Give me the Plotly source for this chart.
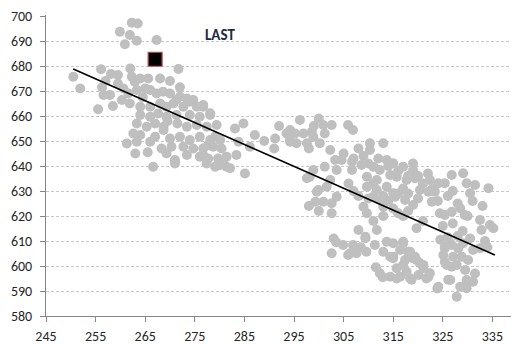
import plotly.graph_objects as go

# ---- data ----
upper_x = [262.3, 263.5, 259.9, 261.9, 263.3, 260.9, 267.3, 271.7, 272.0,
           250.5, 251.9, 255.5, 256.1, 258.1, 259.5, 256.3, 257.9, 256.6, 266.6,
           261.3, 263.3, 266.0, 271.0, 273.4, 285.1, 281.4, 283.1, 284.8, 287.1,
           291.2, 286.1, 262.3, 262.9, 264.0, 265.6, 260.6, 261.6, 263.3, 265.0,
           266.0, 267.3, 268.6, 270.0, 272.0, 273.4, 274.7, 260.3, 261.9, 264.0,
           266.0, 268.0, 269.3, 270.7, 272.7, 275.4, 276.7, 264.0, 266.0, 267.6,
           269.3, 271.3, 274.0, 276.0, 278.1, 263.3, 265.3, 267.0, 268.7, 273.4,
           275.4, 277.4, 279.4, 262.6, 264.0, 267.0, 268.7, 270.0, 272.0, 274.0,
           276.0, 278.1, 280.1, 268.3, 270.3, 272.7, 274.7, 276.7, 278.7, 280.4,
           269.3, 276.0, 277.7, 279.7, 281.4, 283.4, 277.4, 280.1, 271.0, 274.0,
           271.3, 276.7, 278.1, 279.1, 277.7, 280.7, 279.1, 282.1, 283.8, 271.0,
           276.7, 258.5, 259.5, 268.0, 270.0, 262.0, 257.0, 264.5, 269.5, 271.5,
           265.5, 263.0]
upper_y = [697.3, 697.0, 693.7, 692.4, 690.1, 688.7, 690.4, 678.8, 671.5,
           675.7, 671.0, 662.7, 678.7, 676.8, 676.4, 671.5, 668.4, 668.4, 639.7,
           649.0, 649.7, 649.7, 641.0, 644.4, 637.0, 639.7, 655.0, 657.0, 652.4,
           651.0, 647.7, 675.7, 673.7, 675.0, 675.0, 671.0, 669.0, 670.4, 671.0,
           670.4, 669.0, 669.7, 669.0, 667.7, 667.0, 666.4, 666.4, 665.0, 663.7,
           663.7, 665.0, 663.7, 665.0, 663.7, 663.7, 663.7, 660.4, 659.7, 661.0,
           659.7, 660.4, 660.4, 659.7, 660.4, 657.0, 655.7, 657.0, 655.7, 655.7,
           656.4, 655.7, 656.4, 653.0, 652.4, 651.7, 654.4, 651.0, 651.7, 650.4,
           651.7, 650.4, 650.4, 647.0, 647.7, 647.7, 647.0, 647.0, 647.7, 647.0,
           645.0, 643.7, 643.0, 643.0, 643.7, 644.4, 641.0, 640.4, 641.7, 665.7,
           666.4, 664.4, 661.1, 651.7, 648.4, 641.1, 639.7, 639.1, 649.7, 642.4,
           644.4, 664.0, 673.0, 675.0, 674.0, 679.0, 674.0, 667.5, 658.0, 657.0,
           645.5, 645.0]

middle_x = [296.2, 294.2, 293.5, 295.2, 296.9, 298.6, 298.9, 300.9, 302.6, 301.2,
            300.2, 297.6, 295.5, 294.2, 302.3, 305.9, 306.9, 310.3, 313.0, 310.3,
            313.7, 304.6, 306.7, 303.3, 301.2, 298.9, 303.6, 306.7, 308.6, 311.0,
            312.3, 309.7, 311.7, 314.4, 297.6, 302.3, 309.7, 311.7, 313.7, 315.0,
            299.6, 301.6, 303.6, 299.3, 300.9, 302.6, 302.6, 309.0, 309.7, 312.3,
            313.0, 311.0, 315.0, 317.0, 319.0, 315.7, 317.7, 319.4, 322.4, 324.1,
            325.4, 326.8, 329.1, 329.8, 331.5, 334.2, 330.5, 320.4, 322.1, 323.4,
            322.8, 315.4, 317.4, 319.0, 316.0, 324.4, 326.8, 328.5, 329.4, 332.5,
            334.5, 335.2, 332.8, 319.7, 325.4, 305.0, 307.0, 308.0, 309.0, 310.0,
            312.0, 314.0, 316.0, 318.0, 306.0, 307.0, 308.0, 310.0, 311.0, 313.0,
            314.0, 316.0, 317.0, 318.0, 320.0, 321.0, 319.0, 320.0, 322.0, 323.0,
            315.0, 313.0, 311.0, 317.0, 318.0, 321.0, 324.0, 326.0, 327.0, 328.0,
            330.0, 331.0, 333.0, 327.0, 329.0, 325.0, 289.0, 292.0, 300.0, 299.0,
            298.0, 291.0, 298.0, 300.0, 298.2, 299.9, 294.2]
middle_y = [658.4, 654.4, 653.0, 653.0, 653.0, 653.7, 651.7, 656.4, 656.4, 653.0,
            649.1, 649.1, 649.1, 649.7, 646.4, 656.4, 654.4, 649.1, 649.1, 646.4,
            642.4, 642.4, 641.7, 642.4, 639.7, 638.4, 638.4, 638.4, 640.4, 639.7,
            638.4, 635.7, 634.4, 636.4, 635.1, 634.4, 631.7, 630.4, 631.7, 629.1,
            629.7, 631.7, 627.7, 625.7, 625.7, 625.1, 621.1, 623.7, 621.1, 626.4,
            623.7, 627.7, 641.1, 639.7, 638.4, 635.7, 634.4, 635.1, 634.4, 633.1,
            633.1, 636.4, 637.1, 633.1, 632.4, 631.1, 629.1, 630.4, 629.7, 629.7,
            625.7, 627.7, 626.4, 624.4, 621.1, 621.1, 621.7, 623.1, 620.4, 618.4,
            616.4, 615.1, 614.4, 615.1, 620.4, 645.0, 643.0, 647.0, 644.0, 641.0,
            643.0, 640.0, 638.0, 636.0, 633.0, 630.0, 628.0, 627.0, 633.0, 628.0,
            626.0, 629.0, 631.0, 629.0, 627.0, 633.0, 641.0, 636.0, 637.0, 631.0,
            623.0, 620.0, 618.0, 620.0, 622.0, 618.0, 626.0, 628.0, 630.0, 625.0,
            620.0, 626.0, 624.0, 617.0, 614.0, 616.0, 650.0, 656.0, 659.0, 656.0,
            647.0, 647.0, 624.0, 622.0, 635.7, 630.4, 650.4]

lower_x = [308.0, 311.7, 309.4, 302.6, 304.9, 306.9, 305.9, 307.6, 309.6, 311.3,
           313.7, 313.0, 315.0, 317.0, 318.0, 319.0, 320.4, 321.1, 317.0, 315.7,
           312.3, 314.4, 316.4, 318.4, 320.1, 322.1, 324.1, 317.7, 325.4, 325.4,
           312.9, 315.7, 318.7, 321.7, 323.9, 326.1, 327.8, 328.5, 331.1, 329.8,
           315.0, 317.0, 316.4, 318.4, 315.0, 317.4, 319.7, 321.1, 325.4, 326.8,
           328.1, 329.1, 325.1, 327.1, 328.8, 331.1, 332.5, 325.8, 327.8, 303.0,
           306.3, 309.4, 314.4, 319.4, 322.4, 326.5, 330.1, 329.5, 331.5, 326.8,
           326.5, 329.8, 311.5, 330.5, 326.0, 328.0, 324.5, 333.5, 303.5, 308.5,
           334.0]
lower_y = [614.4, 614.4, 611.1, 605.1, 608.4, 608.4, 604.4, 605.1, 605.7, 608.4,
           609.7, 605.7, 603.7, 609.1, 605.7, 603.1, 601.1, 599.1, 600.4, 599.1,
           597.1, 595.7, 595.7, 595.1, 596.4, 595.7, 591.7, 597.7, 607.1, 601.7,
           595.5, 595.0, 594.5, 595.0, 591.0, 594.5, 587.7, 591.7, 593.7, 594.4,
           609.1, 609.7, 606.4, 605.7, 603.1, 602.4, 602.4, 600.4, 607.7, 608.4,
           607.1, 609.1, 604.4, 603.7, 603.7, 606.4, 607.1, 600.4, 600.4, 611.0,
           605.1, 611.7, 603.7, 603.7, 597.1, 609.1, 602.4, 598.4, 597.0, 599.7,
           594.4, 591.1, 599.5, 611.0, 611.5, 612.0, 610.5, 610.0, 609.5, 607.5,
           607.5]

trend_x = [250.5, 335.5]
trend_y = [678.8, 604.4]

last_x = [267.0]
last_y = [682.7]
last_label = "LAST"
last_label_pos = (280.1, 692.6)

x_ticks = [245, 255, 265, 275, 285, 295, 305, 315, 325, 335]
y_ticks = [580, 590, 600, 610, 620, 630, 640, 650, 660, 670, 680, 690, 700]

all_x = upper_x + middle_x + lower_x
all_y = upper_y + middle_y + lower_y

FONT = "Carlito, Lato, 'Liberation Sans', sans-serif"

fig = go.Figure()
fig.add_trace(go.Scatter(
    x=all_x, y=all_y, mode="markers",
    marker=dict(size=10, color="#BFBFBF", line=dict(width=0)),
    hoverinfo="skip", showlegend=False,
))
fig.add_trace(go.Scatter(
    x=trend_x, y=trend_y, mode="lines",
    line=dict(color="#000000", width=1.5),
    hoverinfo="skip", showlegend=False,
))
fig.add_trace(go.Scatter(
    x=last_x, y=last_y, mode="markers",
    marker=dict(symbol="square", size=14, color="#000000",
                line=dict(color="#C0504D", width=1.2)),
    hoverinfo="skip", showlegend=False,
))
fig.add_annotation(
    x=last_label_pos[0], y=last_label_pos[1], text="<b>" + last_label + "</b>",
    showarrow=False, font=dict(family=FONT, size=15, color="#1F2A44"),
)

fig.update_layout(
    width=511, height=345,
    margin=dict(l=46, r=0, t=15, b=29),
    paper_bgcolor="white", plot_bgcolor="white",
    font=dict(family=FONT, size=14, color="#262626"),
)
fig.update_xaxes(
    range=[245, 338.75], tickvals=x_ticks, ticktext=[str(v) for v in x_ticks],
    showgrid=False, zeroline=False,
    showline=True, linecolor="#868686", linewidth=1,
    ticks="outside", ticklen=5, tickcolor="#868686",
    ticklabelstandoff=2,
    tickfont=dict(size=14, color="#262626"),
)
fig.update_yaxes(
    range=[580, 700.4], tickvals=y_ticks, ticktext=[str(v) for v in y_ticks],
    showgrid=True, gridcolor="#C8C8C8", gridwidth=1, griddash="3px,2px",
    zeroline=False,
    showline=True, linecolor="#868686", linewidth=1,
    ticks="outside", ticklen=5, tickcolor="#868686",
    ticklabelstandoff=5,
    tickfont=dict(size=14, color="#262626"),
)

fig.write_html(
    "out.html",
    config={"displayModeBar": False},
    post_script="document.body.style.margin='0px';document.body.style.padding='0px';",
)
